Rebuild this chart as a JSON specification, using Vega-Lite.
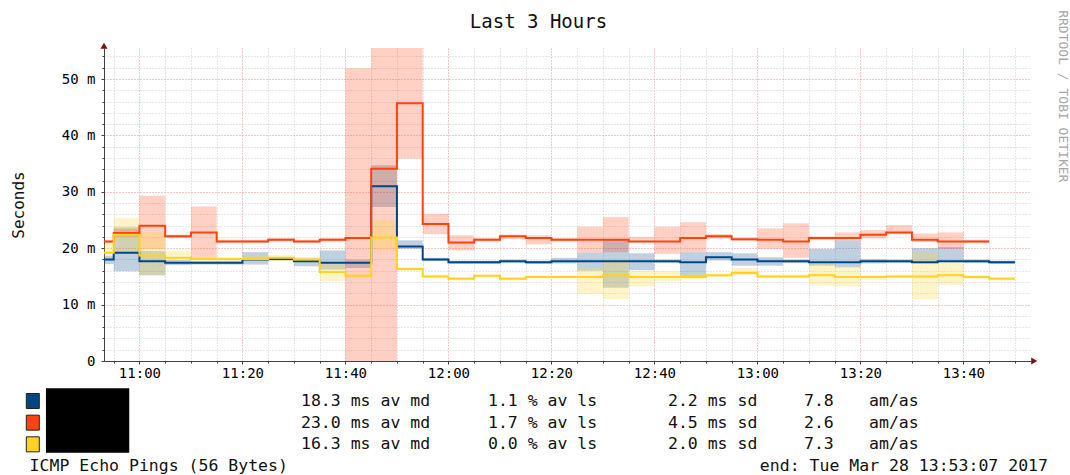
{
  "$schema": "https://vega.github.io/schema/vega-lite/v6.json",
  "background": "white",
  "padding": {"left": 10, "top": 10, "right": 0, "bottom": 0},
  "config": {"view": {"stroke": null}, "font": "DejaVu Sans Mono"},
  "bounds": "flush",
  "spacing": 40,
  "vconcat": [
    {
      "width": 927,
      "height": 313,
      "resolve": {"axis": {"x": "independent", "y": "independent"}},
      "data": {
        "format": {"parse": {"start": "date", "end": "date"}},
        "values": [
          {"host":"host1","start":"2017-03-28T10:50:00","end":"2017-03-28T10:55:00","median":18.0,"lo":17.2,"hi":18.6},
          {"host":"host1","start":"2017-03-28T10:55:00","end":"2017-03-28T11:00:00","median":19.2,"lo":15.9,"hi":23.7},
          {"host":"host1","start":"2017-03-28T11:00:00","end":"2017-03-28T11:05:00","median":17.7,"lo":15.2,"hi":19.5},
          {"host":"host1","start":"2017-03-28T11:05:00","end":"2017-03-28T11:10:00","median":17.4,"lo":17.0,"hi":17.9},
          {"host":"host1","start":"2017-03-28T11:10:00","end":"2017-03-28T11:15:00","median":17.4,"lo":17.1,"hi":17.7},
          {"host":"host1","start":"2017-03-28T11:15:00","end":"2017-03-28T11:20:00","median":17.4,"lo":17.1,"hi":17.7},
          {"host":"host1","start":"2017-03-28T11:20:00","end":"2017-03-28T11:25:00","median":18.0,"lo":17.1,"hi":19.3},
          {"host":"host1","start":"2017-03-28T11:25:00","end":"2017-03-28T11:30:00","median":18.1,"lo":17.8,"hi":18.4},
          {"host":"host1","start":"2017-03-28T11:30:00","end":"2017-03-28T11:35:00","median":17.7,"lo":16.8,"hi":18.2},
          {"host":"host1","start":"2017-03-28T11:35:00","end":"2017-03-28T11:40:00","median":17.4,"lo":16.2,"hi":19.6},
          {"host":"host1","start":"2017-03-28T11:40:00","end":"2017-03-28T11:45:00","median":17.4,"lo":16.5,"hi":18.0},
          {"host":"host1","start":"2017-03-28T11:45:00","end":"2017-03-28T11:50:00","median":31.0,"lo":27.3,"hi":34.7},
          {"host":"host1","start":"2017-03-28T11:50:00","end":"2017-03-28T11:55:00","median":20.3,"lo":19.9,"hi":21.4},
          {"host":"host1","start":"2017-03-28T11:55:00","end":"2017-03-28T12:00:00","median":18.0,"lo":17.7,"hi":18.3},
          {"host":"host1","start":"2017-03-28T12:00:00","end":"2017-03-28T12:05:00","median":17.5,"lo":17.2,"hi":17.8},
          {"host":"host1","start":"2017-03-28T12:05:00","end":"2017-03-28T12:10:00","median":17.5,"lo":17.2,"hi":17.8},
          {"host":"host1","start":"2017-03-28T12:10:00","end":"2017-03-28T12:15:00","median":17.7,"lo":17.4,"hi":18.0},
          {"host":"host1","start":"2017-03-28T12:15:00","end":"2017-03-28T12:20:00","median":17.5,"lo":17.2,"hi":17.8},
          {"host":"host1","start":"2017-03-28T12:20:00","end":"2017-03-28T12:25:00","median":17.7,"lo":17.3,"hi":18.3},
          {"host":"host1","start":"2017-03-28T12:25:00","end":"2017-03-28T12:30:00","median":17.7,"lo":16.0,"hi":19.2},
          {"host":"host1","start":"2017-03-28T12:30:00","end":"2017-03-28T12:35:00","median":17.7,"lo":13.0,"hi":21.5},
          {"host":"host1","start":"2017-03-28T12:35:00","end":"2017-03-28T12:40:00","median":17.7,"lo":16.1,"hi":19.1},
          {"host":"host1","start":"2017-03-28T12:40:00","end":"2017-03-28T12:45:00","median":17.7,"lo":17.4,"hi":18.0},
          {"host":"host1","start":"2017-03-28T12:45:00","end":"2017-03-28T12:50:00","median":17.5,"lo":14.8,"hi":19.3},
          {"host":"host1","start":"2017-03-28T12:50:00","end":"2017-03-28T12:55:00","median":18.4,"lo":17.8,"hi":19.3},
          {"host":"host1","start":"2017-03-28T12:55:00","end":"2017-03-28T13:00:00","median":18.0,"lo":16.9,"hi":19.1},
          {"host":"host1","start":"2017-03-28T13:00:00","end":"2017-03-28T13:05:00","median":17.7,"lo":16.9,"hi":18.4},
          {"host":"host1","start":"2017-03-28T13:05:00","end":"2017-03-28T13:10:00","median":17.7,"lo":17.4,"hi":18.0},
          {"host":"host1","start":"2017-03-28T13:10:00","end":"2017-03-28T13:15:00","median":17.5,"lo":16.9,"hi":19.9},
          {"host":"host1","start":"2017-03-28T13:15:00","end":"2017-03-28T13:20:00","median":17.5,"lo":16.6,"hi":21.4},
          {"host":"host1","start":"2017-03-28T13:20:00","end":"2017-03-28T13:25:00","median":17.7,"lo":17.3,"hi":18.1},
          {"host":"host1","start":"2017-03-28T13:25:00","end":"2017-03-28T13:30:00","median":17.7,"lo":17.4,"hi":18.0},
          {"host":"host1","start":"2017-03-28T13:30:00","end":"2017-03-28T13:35:00","median":17.5,"lo":17.3,"hi":20.0},
          {"host":"host1","start":"2017-03-28T13:35:00","end":"2017-03-28T13:40:00","median":17.7,"lo":17.5,"hi":20.2},
          {"host":"host1","start":"2017-03-28T13:40:00","end":"2017-03-28T13:45:00","median":17.7,"lo":17.4,"hi":18.0},
          {"host":"host1","start":"2017-03-28T13:45:00","end":"2017-03-28T13:50:00","median":17.5,"lo":17.2,"hi":17.8},
          {"host":"host2","start":"2017-03-28T10:50:00","end":"2017-03-28T10:55:00","median":21.2,"lo":20.9,"hi":21.5},
          {"host":"host2","start":"2017-03-28T10:55:00","end":"2017-03-28T11:00:00","median":22.7,"lo":22.0,"hi":23.4},
          {"host":"host2","start":"2017-03-28T11:00:00","end":"2017-03-28T11:05:00","median":24.0,"lo":19.8,"hi":29.3},
          {"host":"host2","start":"2017-03-28T11:05:00","end":"2017-03-28T11:10:00","median":22.1,"lo":21.8,"hi":22.4},
          {"host":"host2","start":"2017-03-28T11:10:00","end":"2017-03-28T11:15:00","median":22.8,"lo":18.3,"hi":27.4},
          {"host":"host2","start":"2017-03-28T11:15:00","end":"2017-03-28T11:20:00","median":21.2,"lo":20.9,"hi":21.5},
          {"host":"host2","start":"2017-03-28T11:20:00","end":"2017-03-28T11:25:00","median":21.2,"lo":20.9,"hi":21.5},
          {"host":"host2","start":"2017-03-28T11:25:00","end":"2017-03-28T11:30:00","median":21.5,"lo":21.2,"hi":21.8},
          {"host":"host2","start":"2017-03-28T11:30:00","end":"2017-03-28T11:35:00","median":21.2,"lo":20.9,"hi":21.5},
          {"host":"host2","start":"2017-03-28T11:35:00","end":"2017-03-28T11:40:00","median":21.5,"lo":21.2,"hi":21.8},
          {"host":"host2","start":"2017-03-28T11:40:00","end":"2017-03-28T11:45:00","median":21.8,"lo":0.0,"hi":51.9},
          {"host":"host2","start":"2017-03-28T11:45:00","end":"2017-03-28T11:50:00","median":34.1,"lo":0.0,"hi":55.5},
          {"host":"host2","start":"2017-03-28T11:50:00","end":"2017-03-28T11:55:00","median":45.7,"lo":35.9,"hi":55.5},
          {"host":"host2","start":"2017-03-28T11:55:00","end":"2017-03-28T12:00:00","median":24.3,"lo":22.5,"hi":26.1},
          {"host":"host2","start":"2017-03-28T12:00:00","end":"2017-03-28T12:05:00","median":21.0,"lo":19.6,"hi":22.3},
          {"host":"host2","start":"2017-03-28T12:05:00","end":"2017-03-28T12:10:00","median":21.5,"lo":21.2,"hi":21.8},
          {"host":"host2","start":"2017-03-28T12:10:00","end":"2017-03-28T12:15:00","median":22.1,"lo":21.6,"hi":22.4},
          {"host":"host2","start":"2017-03-28T12:15:00","end":"2017-03-28T12:20:00","median":21.8,"lo":20.7,"hi":22.3},
          {"host":"host2","start":"2017-03-28T12:20:00","end":"2017-03-28T12:25:00","median":21.5,"lo":21.2,"hi":21.8},
          {"host":"host2","start":"2017-03-28T12:25:00","end":"2017-03-28T12:30:00","median":21.5,"lo":19.2,"hi":23.8},
          {"host":"host2","start":"2017-03-28T12:30:00","end":"2017-03-28T12:35:00","median":21.5,"lo":19.3,"hi":25.5},
          {"host":"host2","start":"2017-03-28T12:35:00","end":"2017-03-28T12:40:00","median":21.2,"lo":21.0,"hi":22.0},
          {"host":"host2","start":"2017-03-28T12:40:00","end":"2017-03-28T12:45:00","median":21.2,"lo":19.0,"hi":23.8},
          {"host":"host2","start":"2017-03-28T12:45:00","end":"2017-03-28T12:50:00","median":21.8,"lo":19.3,"hi":24.6},
          {"host":"host2","start":"2017-03-28T12:50:00","end":"2017-03-28T12:55:00","median":22.1,"lo":21.7,"hi":22.5},
          {"host":"host2","start":"2017-03-28T12:55:00","end":"2017-03-28T13:00:00","median":21.6,"lo":21.3,"hi":21.9},
          {"host":"host2","start":"2017-03-28T13:00:00","end":"2017-03-28T13:05:00","median":21.5,"lo":19.9,"hi":23.5},
          {"host":"host2","start":"2017-03-28T13:05:00","end":"2017-03-28T13:10:00","median":21.2,"lo":18.3,"hi":24.4},
          {"host":"host2","start":"2017-03-28T13:10:00","end":"2017-03-28T13:15:00","median":21.8,"lo":21.5,"hi":22.1},
          {"host":"host2","start":"2017-03-28T13:15:00","end":"2017-03-28T13:20:00","median":21.8,"lo":21.4,"hi":22.8},
          {"host":"host2","start":"2017-03-28T13:20:00","end":"2017-03-28T13:25:00","median":22.4,"lo":21.7,"hi":23.2},
          {"host":"host2","start":"2017-03-28T13:25:00","end":"2017-03-28T13:30:00","median":22.8,"lo":22.5,"hi":24.1},
          {"host":"host2","start":"2017-03-28T13:30:00","end":"2017-03-28T13:35:00","median":21.5,"lo":21.1,"hi":22.6},
          {"host":"host2","start":"2017-03-28T13:35:00","end":"2017-03-28T13:40:00","median":21.2,"lo":19.9,"hi":22.8},
          {"host":"host2","start":"2017-03-28T13:40:00","end":"2017-03-28T13:45:00","median":21.2,"lo":20.9,"hi":21.5},
          {"host":"host3","start":"2017-03-28T10:50:00","end":"2017-03-28T10:55:00","median":19.2,"lo":18.4,"hi":20.8},
          {"host":"host3","start":"2017-03-28T10:55:00","end":"2017-03-28T11:00:00","median":22.4,"lo":19.0,"hi":25.4},
          {"host":"host3","start":"2017-03-28T11:00:00","end":"2017-03-28T11:05:00","median":18.7,"lo":15.2,"hi":22.8},
          {"host":"host3","start":"2017-03-28T11:05:00","end":"2017-03-28T11:10:00","median":18.3,"lo":17.9,"hi":19.5},
          {"host":"host3","start":"2017-03-28T11:10:00","end":"2017-03-28T11:15:00","median":18.1,"lo":17.8,"hi":18.4},
          {"host":"host3","start":"2017-03-28T11:15:00","end":"2017-03-28T11:20:00","median":18.1,"lo":17.8,"hi":18.4},
          {"host":"host3","start":"2017-03-28T11:20:00","end":"2017-03-28T11:25:00","median":18.1,"lo":17.5,"hi":18.8},
          {"host":"host3","start":"2017-03-28T11:25:00","end":"2017-03-28T11:30:00","median":18.3,"lo":17.7,"hi":18.8},
          {"host":"host3","start":"2017-03-28T11:30:00","end":"2017-03-28T11:35:00","median":18.0,"lo":17.5,"hi":18.5},
          {"host":"host3","start":"2017-03-28T11:35:00","end":"2017-03-28T11:40:00","median":15.8,"lo":14.2,"hi":17.5},
          {"host":"host3","start":"2017-03-28T11:40:00","end":"2017-03-28T11:45:00","median":15.1,"lo":14.8,"hi":15.4},
          {"host":"host3","start":"2017-03-28T11:45:00","end":"2017-03-28T11:50:00","median":21.9,"lo":19.6,"hi":25.0},
          {"host":"host3","start":"2017-03-28T11:50:00","end":"2017-03-28T11:55:00","median":16.3,"lo":16.0,"hi":16.6},
          {"host":"host3","start":"2017-03-28T11:55:00","end":"2017-03-28T12:00:00","median":15.0,"lo":14.7,"hi":15.3},
          {"host":"host3","start":"2017-03-28T12:00:00","end":"2017-03-28T12:05:00","median":14.6,"lo":14.3,"hi":14.9},
          {"host":"host3","start":"2017-03-28T12:05:00","end":"2017-03-28T12:10:00","median":15.1,"lo":14.8,"hi":15.4},
          {"host":"host3","start":"2017-03-28T12:10:00","end":"2017-03-28T12:15:00","median":14.6,"lo":14.3,"hi":14.9},
          {"host":"host3","start":"2017-03-28T12:15:00","end":"2017-03-28T12:20:00","median":14.9,"lo":14.6,"hi":15.2},
          {"host":"host3","start":"2017-03-28T12:20:00","end":"2017-03-28T12:25:00","median":14.9,"lo":14.6,"hi":15.2},
          {"host":"host3","start":"2017-03-28T12:25:00","end":"2017-03-28T12:30:00","median":14.9,"lo":11.9,"hi":16.5},
          {"host":"host3","start":"2017-03-28T12:30:00","end":"2017-03-28T12:35:00","median":15.2,"lo":11.0,"hi":18.0},
          {"host":"host3","start":"2017-03-28T12:35:00","end":"2017-03-28T12:40:00","median":14.9,"lo":13.2,"hi":16.0},
          {"host":"host3","start":"2017-03-28T12:40:00","end":"2017-03-28T12:45:00","median":14.9,"lo":14.2,"hi":15.9},
          {"host":"host3","start":"2017-03-28T12:45:00","end":"2017-03-28T12:50:00","median":14.9,"lo":14.5,"hi":15.5},
          {"host":"host3","start":"2017-03-28T12:50:00","end":"2017-03-28T12:55:00","median":15.2,"lo":14.9,"hi":15.5},
          {"host":"host3","start":"2017-03-28T12:55:00","end":"2017-03-28T13:00:00","median":15.6,"lo":15.2,"hi":16.5},
          {"host":"host3","start":"2017-03-28T13:00:00","end":"2017-03-28T13:05:00","median":15.0,"lo":14.7,"hi":15.3},
          {"host":"host3","start":"2017-03-28T13:05:00","end":"2017-03-28T13:10:00","median":15.0,"lo":14.7,"hi":15.3},
          {"host":"host3","start":"2017-03-28T13:10:00","end":"2017-03-28T13:15:00","median":15.2,"lo":13.4,"hi":17.2},
          {"host":"host3","start":"2017-03-28T13:15:00","end":"2017-03-28T13:20:00","median":14.9,"lo":13.2,"hi":16.6},
          {"host":"host3","start":"2017-03-28T13:20:00","end":"2017-03-28T13:25:00","median":14.9,"lo":14.4,"hi":15.2},
          {"host":"host3","start":"2017-03-28T13:25:00","end":"2017-03-28T13:30:00","median":15.0,"lo":14.7,"hi":15.3},
          {"host":"host3","start":"2017-03-28T13:30:00","end":"2017-03-28T13:35:00","median":15.0,"lo":11.0,"hi":19.3},
          {"host":"host3","start":"2017-03-28T13:35:00","end":"2017-03-28T13:40:00","median":15.2,"lo":13.5,"hi":17.5},
          {"host":"host3","start":"2017-03-28T13:40:00","end":"2017-03-28T13:45:00","median":14.9,"lo":14.6,"hi":15.2},
          {"host":"host3","start":"2017-03-28T13:45:00","end":"2017-03-28T13:50:00","median":14.6,"lo":14.3,"hi":14.9}
        ]
      },
      "layer": [
        {
          "mark": {"type": "rect", "clip": true, "opacity": 0.25},
          "encoding": {
            "x": {
              "field": "start", "type": "temporal",
              "scale": {"domain": [{"year": 2017, "month": 3, "date": 28, "hours": 10, "minutes": 53, "seconds": 7}, {"year": 2017, "month": 3, "date": 28, "hours": 13, "minutes": 53, "seconds": 7}], "nice": false},
              "axis": {
                "orient": "bottom", "title": null, "labels": false,
                "values": [
                  {"year": 2017, "month": 3, "date": 28, "hours": 10, "minutes": 55},
                  {"year": 2017, "month": 3, "date": 28, "hours": 11, "minutes": 5},
                  {"year": 2017, "month": 3, "date": 28, "hours": 11, "minutes": 10},
                  {"year": 2017, "month": 3, "date": 28, "hours": 11, "minutes": 15},
                  {"year": 2017, "month": 3, "date": 28, "hours": 11, "minutes": 25},
                  {"year": 2017, "month": 3, "date": 28, "hours": 11, "minutes": 30},
                  {"year": 2017, "month": 3, "date": 28, "hours": 11, "minutes": 35},
                  {"year": 2017, "month": 3, "date": 28, "hours": 11, "minutes": 45},
                  {"year": 2017, "month": 3, "date": 28, "hours": 11, "minutes": 50},
                  {"year": 2017, "month": 3, "date": 28, "hours": 11, "minutes": 55},
                  {"year": 2017, "month": 3, "date": 28, "hours": 12, "minutes": 5},
                  {"year": 2017, "month": 3, "date": 28, "hours": 12, "minutes": 10},
                  {"year": 2017, "month": 3, "date": 28, "hours": 12, "minutes": 15},
                  {"year": 2017, "month": 3, "date": 28, "hours": 12, "minutes": 25},
                  {"year": 2017, "month": 3, "date": 28, "hours": 12, "minutes": 30},
                  {"year": 2017, "month": 3, "date": 28, "hours": 12, "minutes": 35},
                  {"year": 2017, "month": 3, "date": 28, "hours": 12, "minutes": 45},
                  {"year": 2017, "month": 3, "date": 28, "hours": 12, "minutes": 50},
                  {"year": 2017, "month": 3, "date": 28, "hours": 12, "minutes": 55},
                  {"year": 2017, "month": 3, "date": 28, "hours": 13, "minutes": 5},
                  {"year": 2017, "month": 3, "date": 28, "hours": 13, "minutes": 10},
                  {"year": 2017, "month": 3, "date": 28, "hours": 13, "minutes": 15},
                  {"year": 2017, "month": 3, "date": 28, "hours": 13, "minutes": 25},
                  {"year": 2017, "month": 3, "date": 28, "hours": 13, "minutes": 30},
                  {"year": 2017, "month": 3, "date": 28, "hours": 13, "minutes": 35},
                  {"year": 2017, "month": 3, "date": 28, "hours": 13, "minutes": 45},
                  {"year": 2017, "month": 3, "date": 28, "hours": 13, "minutes": 50}
                ],
                "grid": true, "gridColor": "#cccccc", "gridDash": [1, 2], "gridWidth": 1,
                "domain": true, "domainColor": "#404040", "domainWidth": 1,
                "ticks": true, "tickColor": "#404040", "tickSize": 2
              }
            },
            "x2": {"field": "end"},
            "y": {
              "field": "lo", "type": "quantitative",
              "scale": {"domain": [0, 55.5], "nice": false, "zero": true},
              "axis": {
                "orient": "left", "title": null, "labels": false,
                "values": [2, 4, 6, 8, 12, 14, 16, 18, 22, 24, 26, 28, 32, 34, 36, 38, 42, 44, 46, 48, 52, 54],
                "grid": true, "gridColor": "#cccccc", "gridDash": [1, 2], "gridWidth": 1,
                "domain": true, "domainColor": "#404040", "domainWidth": 1,
                "ticks": true, "tickColor": "#404040", "tickSize": 2
              }
            },
            "y2": {"field": "hi"},
            "color": {"field": "host", "type": "nominal", "scale": {"domain": ["host1", "host2", "host3"], "range": ["#004586", "#ff420e", "#ffd320"]}, "legend": null}
          }
        },
        {
          "transform": [{"fold": ["start", "end"], "as": ["edge", "t"]}],
          "mark": {"type": "line", "clip": true, "strokeWidth": 2, "interpolate": "linear"},
          "encoding": {
            "x": {
              "field": "t", "type": "temporal",
              "axis": {
                "orient": "bottom", "title": null, "format": "%H:%M",
                "values": [
                  {"year": 2017, "month": 3, "date": 28, "hours": 11, "minutes": 0},
                  {"year": 2017, "month": 3, "date": 28, "hours": 11, "minutes": 20},
                  {"year": 2017, "month": 3, "date": 28, "hours": 11, "minutes": 40},
                  {"year": 2017, "month": 3, "date": 28, "hours": 12, "minutes": 0},
                  {"year": 2017, "month": 3, "date": 28, "hours": 12, "minutes": 20},
                  {"year": 2017, "month": 3, "date": 28, "hours": 12, "minutes": 40},
                  {"year": 2017, "month": 3, "date": 28, "hours": 13, "minutes": 0},
                  {"year": 2017, "month": 3, "date": 28, "hours": 13, "minutes": 20},
                  {"year": 2017, "month": 3, "date": 28, "hours": 13, "minutes": 40}
                ],
                "labelOverlap": false, "labelFlush": false,
                "labelFont": "DejaVu Sans Mono", "labelFontSize": 14, "labelColor": "#000000", "labelPadding": 2,
                "grid": true, "gridColor": "#f09090", "gridDash": [1, 2], "gridWidth": 1,
                "domain": false, "ticks": true, "tickColor": "#404040", "tickSize": 3
              }
            },
            "y": {
              "field": "median", "type": "quantitative",
              "axis": {
                "orient": "left",
                "title": "Seconds", "titleFont": "DejaVu Sans Mono", "titleFontSize": 16, "titleFontWeight": "normal", "titleColor": "#111111", "titlePadding": 35,
                "values": [0, 10, 20, 30, 40, 50],
                "labelExpr": "datum.value === 0 ? '0' : datum.value + ' m'",
                "labelFont": "DejaVu Sans Mono", "labelFontSize": 14, "labelColor": "#000000", "labelPadding": 6, "labelOverlap": false,
                "grid": true, "gridColor": "#f09090", "gridDash": [1, 2], "gridWidth": 1,
                "domain": false, "ticks": true, "tickColor": "#404040", "tickSize": 3
              }
            },
            "color": {"field": "host", "type": "nominal", "scale": {"domain": ["host1", "host2", "host3"], "range": ["#004586", "#ff420e", "#ffd320"]}, "legend": null},
            "order": {"value": null}
          }
        },
        {
          "data": {"values": [{"arrow": "y"}]},
          "mark": {"type": "point", "shape": "triangle-up", "size": 50, "filled": true, "color": "#7a1414", "opacity": 1},
          "encoding": {
            "x": {"datum": {"year": 2017, "month": 3, "date": 28, "hours": 10, "minutes": 53, "seconds": 7}, "type": "temporal", "axis": null},
            "y": {"datum": 55.9, "type": "quantitative", "axis": null}
          }
        },
        {
          "data": {"values": [{"arrow": "x"}]},
          "mark": {"type": "point", "shape": "triangle-right", "size": 50, "filled": true, "color": "#7a1414", "opacity": 1},
          "encoding": {
            "x": {"datum": {"year": 2017, "month": 3, "date": 28, "hours": 13, "minutes": 53, "seconds": 45}, "type": "temporal", "axis": null},
            "y": {"datum": 0, "type": "quantitative", "axis": null}
          }
        },
        {
          "data": {"values": [{"label": "Last 3 Hours"}]},
          "mark": {"type": "text", "align": "center", "baseline": "alphabetic", "font": "DejaVu Sans Mono", "fontSize": 19, "color": "#111111"},
          "encoding": {
            "x": {"datum": {"year": 2017, "month": 3, "date": 28, "hours": 12, "minutes": 17, "seconds": 29}, "type": "temporal", "axis": null},
            "y": {"datum": 59.0, "type": "quantitative", "axis": null},
            "text": {"field": "label"}
          }
        },
        {
          "data": {"values": [{"label": "RRDTOOL / TOBI OETIKER"}]},
          "mark": {"type": "text", "angle": 90, "align": "left", "baseline": "middle", "font": "DejaVu Sans Mono", "fontSize": 13, "color": "#a6a6a6"},
          "encoding": {
            "x": {"datum": {"year": 2017, "month": 3, "date": 28, "hours": 13, "minutes": 59, "seconds": 20}, "type": "temporal", "axis": null},
            "y": {"datum": 62.2, "type": "quantitative", "axis": null},
            "text": {"field": "label"}
          }
        }
      ]
    },
    {
      "width": 927,
      "height": 65,
      "data": {
        "values": [
          {"host": "host1", "median": "18.3 ms av md", "loss": "1.1 % av ls", "sd": "2.2 ms sd", "ratio": "7.8", "unit": "am/as"},
          {"host": "host2", "median": "23.0 ms av md", "loss": "1.7 % av ls", "sd": "4.5 ms sd", "ratio": "2.6", "unit": "am/as"},
          {"host": "host3", "median": "16.3 ms av md", "loss": "0.0 % av ls", "sd": "2.0 ms sd", "ratio": "7.3", "unit": "am/as"}
        ]
      },
      "encoding": {
        "y": {"field": "host", "type": "nominal", "scale": {"type": "point", "domain": ["host1", "host2", "host3", "footer"], "padding": 0}, "axis": null}
      },
      "layer": [
        {
          "mark": {"type": "point", "shape": "M-0.867,-1H0.867V1H-0.867Z", "size": 225, "filled": true, "opacity": 1, "stroke": "#222222", "strokeWidth": 1},
          "encoding": {
            "x": {"datum": 3, "type": "quantitative", "scale": {"domain": [0, 100], "range": [-103, 957]}, "axis": null},
            "color": {"field": "host", "type": "nominal", "scale": {"domain": ["host1", "host2", "host3"], "range": ["#004586", "#ff420e", "#ffd320"]}, "legend": null}
          }
        },
        {
          "data": {"values": [{"host": "host2"}]},
          "mark": {"type": "point", "shape": "M-1,-0.826H1V0.72H-1Z", "size": 6939, "filled": true, "opacity": 1, "color": "#000000"},
          "encoding": {
            "x": {"datum": 8.17, "type": "quantitative", "scale": {"domain": [0, 100], "range": [-103, 957]}, "axis": null}
          }
        },
        {
          "mark": {"type": "text", "align": "left", "baseline": "middle", "font": "DejaVu Sans Mono", "fontSize": 16.5, "color": "#111111"},
          "encoding": {
            "x": {"datum": 28.3, "type": "quantitative", "scale": {"domain": [0, 100], "range": [-103, 957]}, "axis": null},
            "text": {"field": "median"}
          }
        },
        {
          "mark": {"type": "text", "align": "left", "baseline": "middle", "font": "DejaVu Sans Mono", "fontSize": 16.5, "color": "#111111"},
          "encoding": {
            "x": {"datum": 45.94, "type": "quantitative", "scale": {"domain": [0, 100], "range": [-103, 957]}, "axis": null},
            "text": {"field": "loss"}
          }
        },
        {
          "mark": {"type": "text", "align": "left", "baseline": "middle", "font": "DejaVu Sans Mono", "fontSize": 16.5, "color": "#111111"},
          "encoding": {
            "x": {"datum": 62.92, "type": "quantitative", "scale": {"domain": [0, 100], "range": [-103, 957]}, "axis": null},
            "text": {"field": "sd"}
          }
        },
        {
          "mark": {"type": "text", "align": "left", "baseline": "middle", "font": "DejaVu Sans Mono", "fontSize": 16.5, "color": "#111111"},
          "encoding": {
            "x": {"datum": 75.75, "type": "quantitative", "scale": {"domain": [0, 100], "range": [-103, 957]}, "axis": null},
            "text": {"field": "ratio"}
          }
        },
        {
          "mark": {"type": "text", "align": "left", "baseline": "middle", "font": "DejaVu Sans Mono", "fontSize": 16.5, "color": "#111111"},
          "encoding": {
            "x": {"datum": 81.89, "type": "quantitative", "scale": {"domain": [0, 100], "range": [-103, 957]}, "axis": null},
            "text": {"field": "unit"}
          }
        },
        {
          "data": {"values": [{"host": "footer", "label": "ICMP Echo Pings (56 Bytes)"}]},
          "mark": {"type": "text", "align": "left", "baseline": "middle", "font": "DejaVu Sans Mono", "fontSize": 16.5, "color": "#111111"},
          "encoding": {
            "x": {"datum": 2.7, "type": "quantitative", "scale": {"domain": [0, 100], "range": [-103, 957]}, "axis": null},
            "text": {"field": "label"}
          }
        },
        {
          "data": {"values": [{"host": "footer", "label": "end: Tue Mar 28 13:53:07 2017"}]},
          "mark": {"type": "text", "align": "right", "baseline": "middle", "font": "DejaVu Sans Mono", "fontSize": 16.5, "color": "#111111"},
          "encoding": {
            "x": {"datum": 98.77, "type": "quantitative", "scale": {"domain": [0, 100], "range": [-103, 957]}, "axis": null},
            "text": {"field": "label"}
          }
        }
      ]
    }
  ]
}
